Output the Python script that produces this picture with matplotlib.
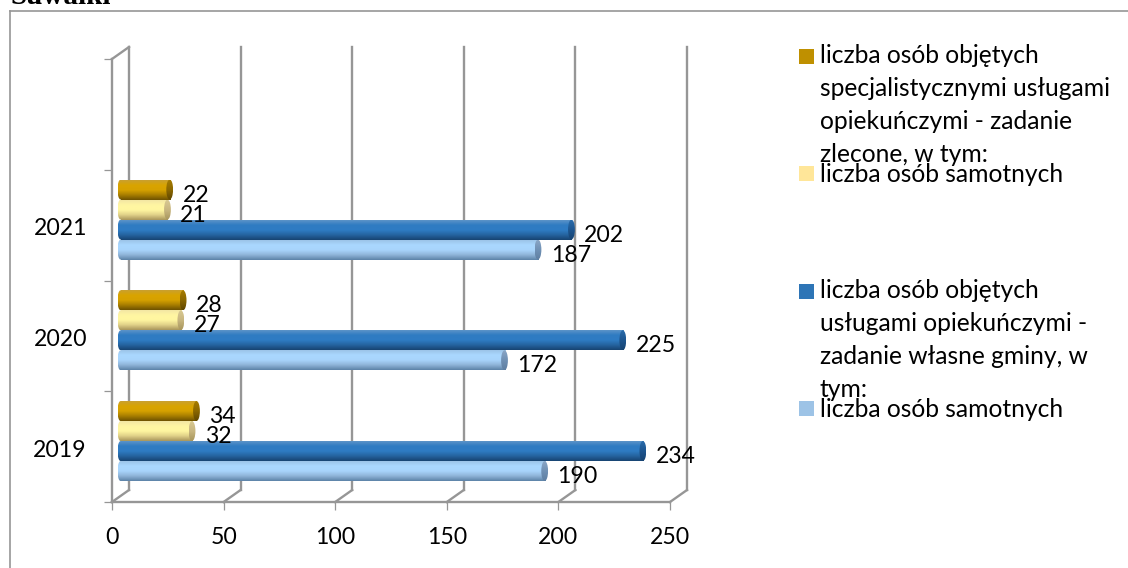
import numpy as np
import matplotlib
matplotlib.use("Agg")
import matplotlib.pyplot as plt
from matplotlib.colors import LinearSegmentedColormap
from matplotlib.patches import Ellipse, Rectangle

W, H = 1128, 568

years = ["2019", "2020", "2021"]
light_blue = [190, 172, 187]
blue = [234, 225, 202]
yellow = [32, 27, 21]
gold = [34, 28, 22]
x_ticks = [0, 50, 100, 150, 200, 250]
legend_gold = ["liczba osób objętych", "specjalistycznymi usługami", "opiekuńczymi - zadanie", "zlecone, w tym:"]
legend_yellow = ["liczba osób samotnych"]
legend_blue = ["liczba osób objętych", "usługami opiekuńczymi -", "zadanie własne gminy, w", "tym:"]
legend_light = ["liczba osób samotnych"]

FONT = "Lato"
plt.rcParams["font.family"] = FONT
GRID = "#969696"
LW = 1.7


def fx(px):
    return px / W


def fy(py):
    return 1 - py / H


fig = plt.figure(figsize=(W / 100, H / 100), dpi=100, facecolor="white")
ax = fig.add_axes([fx(112), fy(502), (670 - 112) / W, (502 - 59) / H])
ax.set_facecolor("none")
ax.set_zorder(2)

UX = 558 / 250   # px per value
UY = 443 / 4     # px per category slot
DX, DY = 17 / UX, 12 / UY          # depth of the 3D box
SX, SY = 5.5 / UX, 5.6 / UY        # bars stand inside the box
BAR = 20 / UY
CAP = 3.4 / UX
NOSE = 3 / UX

# box
for t in x_ticks:
    ax.plot([t + DX, t + DX], [DY, 4 + DY], color=GRID, lw=LW, clip_on=False, zorder=1)
    ax.plot([t, t + DX], [0, DY], color=GRID, lw=LW, clip_on=False, zorder=1)
ax.plot([0, DX], [4, 4 + DY], color=GRID, lw=LW, clip_on=False, zorder=1)


def cmap(stops):
    return LinearSegmentedColormap.from_list("c", stops)


def cylinder(x_end, y0, body, cap):
    grad = np.linspace(0, 1, 64).reshape(-1, 1)
    x0 = SX
    x1 = SX + x_end + 3.1 / UX
    kw = dict(aspect="auto", origin="upper", zorder=3, interpolation="bilinear")
    ell_l = Ellipse((x0 + NOSE, y0 + BAR / 2), 2 * NOSE, BAR, transform=ax.transData)
    im = ax.imshow(grad, cmap=cmap(body), extent=(x0, x0 + 2 * NOSE, y0, y0 + BAR), **kw)
    im.set_clip_path(ell_l)
    ax.imshow(grad, cmap=cmap(body), extent=(x0 + NOSE, x1, y0, y0 + BAR), **kw)
    ell_r = Ellipse((x1, y0 + BAR / 2), 2 * CAP, BAR, transform=ax.transData)
    im = ax.imshow(grad, cmap=cmap(cap), extent=(x1 - CAP, x1 + CAP, y0, y0 + BAR),
                   aspect="auto", origin="upper", zorder=3.1, interpolation="bilinear")
    im.set_clip_path(ell_r)
    return x1 + CAP


series = [
    (light_blue, ["#9cc4e8", "#aad8ff", "#a8d4fb", "#8fb4d8", "#5d83a8"], ["#8aa6c6", "#6f90b4", "#5f7fa2"]),
    (blue, ["#5c93c8", "#2f7bc2", "#2f7cc4", "#25639f", "#174472"], ["#2a6cab", "#1d558f", "#174472"]),
    (yellow, ["#f3e6a4", "#fff6a2", "#fff6a0", "#e0d088", "#a8965c"], ["#d8c992", "#c8b680", "#a8965c"]),
    (gold, ["#c9a030", "#d9a400", "#d6a100", "#a87e00", "#6e5200"], ["#a67c00", "#8b6700", "#5e4600"]),
]
lab_dx = 9.5 * 0.72
lab_dy = -5.5 * 0.72
for j, (vals, body, cap) in enumerate(series):
    for i, v in enumerate(vals):
        y0 = i + 0.5 + SY + (j - 2) * BAR
        end = cylinder(v, y0, body, cap)
        ax.annotate(str(v), xy=(end, y0 + BAR / 2), xytext=(lab_dx, lab_dy),
                    textcoords="offset points", ha="left", va="center", fontsize=16.6,
                    color="black", zorder=5, annotation_clip=False)

ax.set_xlim(0, 250)
ax.set_ylim(0, 4)
for s in ("top", "right"):
    ax.spines[s].set_visible(False)
for s in ("left", "bottom"):
    ax.spines[s].set_color(GRID)
    ax.spines[s].set_linewidth(LW)
    ax.spines[s].set_zorder(1)
ax.set_xticks(x_ticks)
ax.set_yticks([0, 1, 2, 3, 4], labels=[""] * 5)
ax.set_yticks([0.5 - 1.6 / UY, 1.5 - 1.6 / UY, 2.5 - 1.6 / UY], labels=years, minor=True)
ax.tick_params(axis="both", which="major", color=GRID, width=0.9, length=5.8)
ax.tick_params(axis="x", which="major", labelsize=16.6, pad=12.5)
ax.tick_params(axis="y", which="minor", length=0, labelsize=16.6, pad=18)

# frame of the chart area
fig.add_artist(plt.Line2D([fx(10), fx(10)], [fy(11), fy(568)], color=GRID, lw=1.2))
fig.add_artist(plt.Line2D([fx(10), fx(1128)], [fy(11), fy(11)], color=GRID, lw=1.2))

# title, cut by the top edge
fig.text(fx(11), fy(4), "Suwałki", family="Liberation Serif", weight="bold", fontsize=21,
         ha="left", va="baseline", color="black")

# legend
entries = [
    (legend_gold, "#bf9000", 49, 63),
    (legend_yellow, "#ffe699", 166, 182),
    (legend_blue, "#2e75b6", 284, 298),
    (legend_light, "#9dc3e6", 401, 417),
]
for lines, col, sw_top, base in entries:
    fig.add_artist(Rectangle((fx(799), fy(sw_top + 15)), 15 / W, 15 / H, facecolor=col,
                             edgecolor="none", transform=fig.transFigure))
    for k, line in enumerate(lines):
        fig.text(fx(820), fy(base + 33 * k), line, fontsize=17.7, ha="left", va="baseline", color="black")

fig.savefig("out.png", dpi=100)
